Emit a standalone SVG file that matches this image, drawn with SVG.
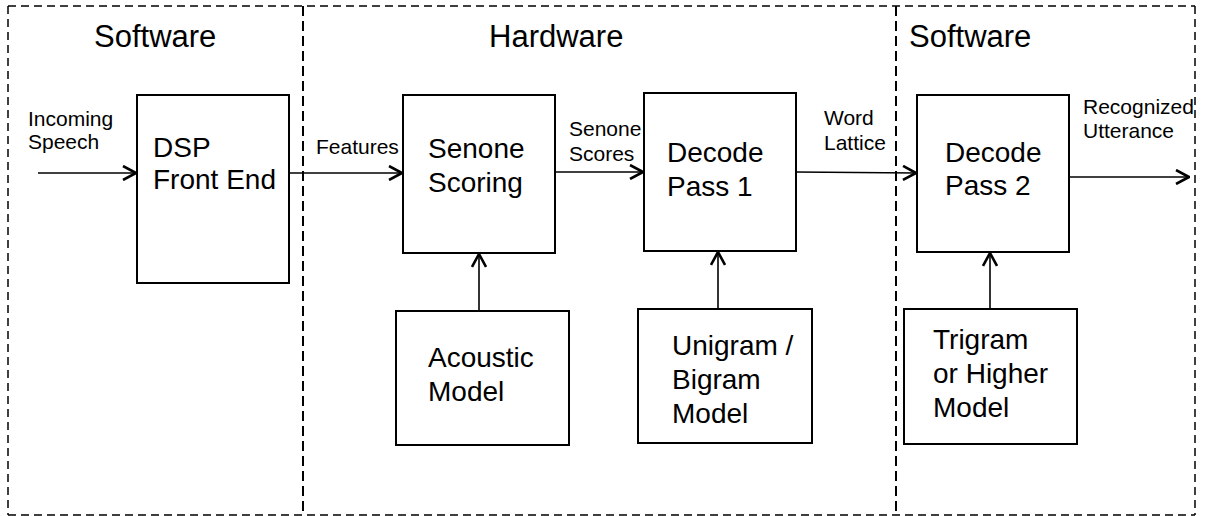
<svg xmlns="http://www.w3.org/2000/svg" width="1207" height="516" viewBox="0 0 1207 516">
<style>
  .frame{fill:none;stroke:#000;stroke-width:1.5;stroke-dasharray:8 5}
  .div{fill:none;stroke:#000;stroke-width:2;stroke-dasharray:10 5}
  .box{fill:#fff;stroke:#000;stroke-width:2}
  .conn{fill:none;stroke:#000;stroke-width:1.6}
  .big{font-family:"Liberation Sans",Arial,sans-serif;font-size:31px;fill:#000}
  .node{font-family:"Liberation Sans",Arial,sans-serif;font-size:28px;fill:#000}
  .lbl{font-family:"Liberation Sans",Arial,sans-serif;font-size:21px;fill:#000}
</style>
<defs>
  <marker id="arr" viewBox="0 0 16 16" refX="15" refY="8" markerWidth="16" markerHeight="16" markerUnits="userSpaceOnUse" orient="auto">
    <path d="M2,1 L15,8 L2,15" fill="none" stroke="#000" stroke-width="2.6"/>
  </marker>
</defs>
<rect width="1207" height="516" fill="#fff"/>
<g id="regions">
  <path class="frame" d="M8,6 H1195"/>
  <path class="frame" d="M8,6 V515"/>
  <path class="frame" d="M1195,6 V515"/>
  <path class="frame" d="M8,515 H1195" stroke="#888"/>
  <path class="div" d="M303,6 V515"/>
  <path class="div" d="M896,6 V515"/>
  <text class="big" x="94" y="47">Software</text>
  <text class="big" x="489" y="47">Hardware</text>
  <text class="big" x="909" y="47">Software</text>
</g>
<g id="connectors">
  <path class="conn" d="M38,173 H136" marker-end="url(#arr)"/>
  <path class="conn" d="M289,173 H402" marker-end="url(#arr)"/>
  <path class="conn" d="M555,172 H643" marker-end="url(#arr)"/>
  <path class="conn" d="M796,172 L916,173" marker-end="url(#arr)"/>
  <path class="conn" d="M1069,177 H1189" marker-end="url(#arr)"/>
  <path class="conn" d="M479,311 V254" marker-end="url(#arr)"/>
  <path class="conn" d="M718,309 V252" marker-end="url(#arr)"/>
  <path class="conn" d="M990,309 V253" marker-end="url(#arr)"/>
  <text class="lbl" x="28" y="126">Incoming</text>
  <text class="lbl" x="28" y="149">Speech</text>
  <text class="lbl" x="316" y="154">Features</text>
  <text class="lbl" x="569" y="136">Senone</text>
  <text class="lbl" x="569" y="161">Scores</text>
  <text class="lbl" x="824" y="125">Word</text>
  <text class="lbl" x="824" y="150">Lattice</text>
  <text class="lbl" x="1083" y="114">Recognized</text>
  <text class="lbl" x="1083" y="138">Utterance</text>
</g>
<g id="dsp">
  <rect class="box" x="137" y="95" width="152" height="188"/>
  <text class="node" x="153" y="157">DSP</text>
  <text class="node" x="153" y="189">Front End</text>
</g>
<g id="senone">
  <rect class="box" x="403" y="95" width="152" height="158"/>
  <text class="node" x="428" y="158">Senone</text>
  <text class="node" x="428" y="192">Scoring</text>
</g>
<g id="decode1">
  <rect class="box" x="644" y="93" width="152" height="158"/>
  <text class="node" x="667" y="162">Decode</text>
  <text class="node" x="667" y="196">Pass 1</text>
</g>
<g id="decode2">
  <rect class="box" x="917" y="95" width="152" height="157"/>
  <text class="node" x="945" y="162">Decode</text>
  <text class="node" x="945" y="195">Pass 2</text>
</g>
<g id="acoustic">
  <rect class="box" x="396" y="311" width="173" height="134"/>
  <text class="node" x="428" y="367">Acoustic</text>
  <text class="node" x="428" y="401">Model</text>
</g>
<g id="bigram">
  <rect class="box" x="638" y="309" width="174" height="134"/>
  <text class="node" x="672" y="355">Unigram /</text>
  <text class="node" x="672" y="389">Bigram</text>
  <text class="node" x="672" y="423">Model</text>
</g>
<g id="trigram">
  <rect class="box" x="904" y="309" width="173" height="135"/>
  <text class="node" x="933" y="349">Trigram</text>
  <text class="node" x="933" y="383">or Higher</text>
  <text class="node" x="933" y="417">Model</text>
</g>
</svg>
